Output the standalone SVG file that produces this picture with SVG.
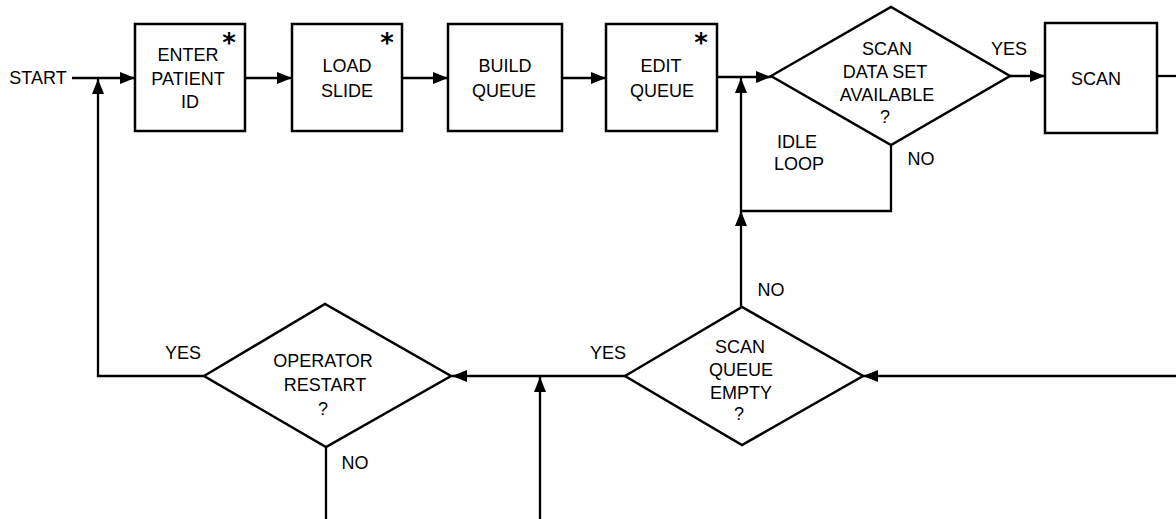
<svg xmlns="http://www.w3.org/2000/svg" width="1176" height="519" viewBox="0 0 1176 519">
<style>
.shape{fill:none;stroke:#000;stroke-width:2.5;stroke-linejoin:miter}
.wire{fill:none;stroke:#000;stroke-width:2.3}
.t{font-family:"Liberation Sans",Arial,sans-serif;font-size:18px;fill:#000;text-anchor:middle}
.star{font-family:"DejaVu Sans",sans-serif;font-size:26px;font-weight:bold;fill:#000;text-anchor:middle}
</style>
<defs>
<marker id="arr" markerUnits="userSpaceOnUse" markerWidth="15" markerHeight="12" refX="15" refY="6" orient="auto">
<path d="M0,0 L15,6 L0,12 z" fill="#000"/>
</marker>
</defs>
<rect width="1176" height="519" fill="#fff"/>
<g id="connectors">
<path class="wire" d="M72,78 H135" marker-end="url(#arr)"/>
<path class="wire" d="M245,78 H292" marker-end="url(#arr)"/>
<path class="wire" d="M402,78 H448" marker-end="url(#arr)"/>
<path class="wire" d="M562,78 H606" marker-end="url(#arr)"/>
<path class="wire" d="M717,77 H771" marker-end="url(#arr)"/>
<path class="wire" d="M1010,76 H1045" marker-end="url(#arr)"/>
<path class="wire" d="M1157,76 H1176"/>
<path class="wire" d="M891,145 V211 H741 V78" marker-end="url(#arr)"/>
<path class="wire" d="M741,307 V211" marker-end="url(#arr)"/>
<path class="wire" d="M1176,376 H863" marker-end="url(#arr)"/>
<path class="wire" d="M625,376 H452" marker-end="url(#arr)"/>
<path class="wire" d="M540,519 V377" marker-end="url(#arr)"/>
<path class="wire" d="M326,447 V519"/>
<path class="wire" d="M204,376 H98 V79" marker-end="url(#arr)"/>
</g>
<g id="start"><text class="t" x="38" y="84">START</text></g>
<g id="enter">
<rect class="shape" x="135" y="24" width="110" height="107"/>
<text class="t" x="188" y="61">ENTER</text>
<text class="t" x="188" y="85">PATIENT</text>
<text class="t" x="190" y="108">ID</text>
<text class="star" x="229" y="52">*</text>
</g>
<g id="load">
<rect class="shape" x="292" y="24" width="110" height="107"/>
<text class="t" x="347" y="72">LOAD</text>
<text class="t" x="347" y="97">SLIDE</text>
<text class="star" x="387" y="52">*</text>
</g>
<g id="build">
<rect class="shape" x="448" y="24" width="114" height="107"/>
<text class="t" x="505" y="72">BUILD</text>
<text class="t" x="504" y="97">QUEUE</text>
</g>
<g id="edit">
<rect class="shape" x="606" y="24" width="111" height="107"/>
<text class="t" x="661" y="72">EDIT</text>
<text class="t" x="662" y="97">QUEUE</text>
<text class="star" x="701" y="52">*</text>
</g>
<g id="scanavail">
<polygon class="shape" points="771,76 891,7 1010,76 891,145"/>
<text class="t" x="887" y="55">SCAN</text>
<text class="t" x="885" y="78">DATA SET</text>
<text class="t" x="887" y="101">AVAILABLE</text>
<text class="t" x="885" y="123">?</text>
<text class="t" x="1009" y="55">YES</text>
<text class="t" x="921" y="165">NO</text>
<text class="t" x="797" y="148">IDLE</text>
<text class="t" x="799" y="170">LOOP</text>
</g>
<g id="scan">
<rect class="shape" x="1045" y="23" width="112" height="110"/>
<text class="t" x="1096" y="85">SCAN</text>
</g>
<g id="queueempty">
<polygon class="shape" points="625,376 742,307 863,376 742,445"/>
<text class="t" x="740" y="353">SCAN</text>
<text class="t" x="741" y="376">QUEUE</text>
<text class="t" x="741" y="399">EMPTY</text>
<text class="t" x="739" y="420">?</text>
<text class="t" x="608" y="359">YES</text>
<text class="t" x="771" y="296">NO</text>
</g>
<g id="restart">
<polygon class="shape" points="204,376 325,304 451,376 326,447"/>
<text class="t" x="323" y="367">OPERATOR</text>
<text class="t" x="325" y="391">RESTART</text>
<text class="t" x="323" y="415">?</text>
<text class="t" x="183" y="359">YES</text>
<text class="t" x="355" y="469">NO</text>
</g>
</svg>
